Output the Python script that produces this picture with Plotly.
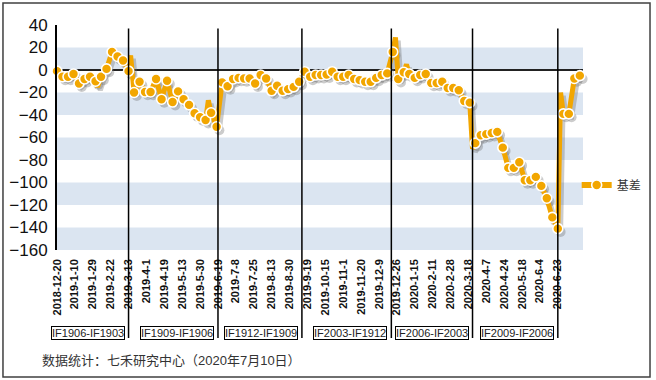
import plotly.graph_objects as go

# ---------------- data ----------------
tick_labels = ["2018-12-20", "2019-1-10", "2019-1-29", "2019-2-22", "2019-3-13", "2019-4-1",
               "2019-4-19", "2019-5-13", "2019-5-30", "2019-6-19", "2019-7-8", "2019-7-25",
               "2019-8-13", "2019-8-30", "2019-9-19", "2019-10-15", "2019-11-1", "2019-11-20",
               "2019-12-9", "2019-12-26", "2020-1-15", "2020-2-11", "2020-2-28", "2020-3-18",
               "2020-4-7", "2020-4-24", "2020-5-18", "2020-6-4", "2020-6-23"]
days_per_label = 13   # trading days between two axis labels
days_per_sample = 4   # trading days between two plotted samples

basis = [-1, -6, -6, -3.5, -12, -8, -6, -10, -6, 1,
         16, 12, 8.5, -1, -20, -10.5, -19.5, -19.5, -8, -26,
         -9.5, -28.5, -19, -26, -31, -38.5, -42, -44.5, -38, -50.5,
         -11, -14.5, -8, -7, -7.5, -7.5, -12, -4.5, -7.5, -18.5,
         -14, -18.5, -17, -15, -10.5, -1.5, -6, -4.5, -4.5, -4,
         -1.5, -6, -6, -4.5, -8, -9, -10.5, -10.5, -7, -4.5,
         -3, 16, -8, -2, -3.5, -7, -4.5, -3.5, -11.5, -11.5,
         -10.5, -16, -16, -18, -27.5, -29, -65, -58, -57, -56,
         -55, -69, -87, -87, -82, -98, -98, -95, -103, -114,
         -131, -141, -39, -39, -7.5, -5]

# intraday-like spikes of the basis line (trading-day index, value)
spike_day = [29.5, 53.5, 110, 246, 254, 302, 366]
spike_value = [-15, 13, -27, 29, 5, -70, -20]

roll_labels = ["IF1906-IF1903", "IF1909-IF1906", "IF1912-IF1909",
               "IF2003-IF1912", "IF2006-IF2003", "IF2009-IF2006"]
roll_day = [52, 117, 178, 243, 302, 364]

y_ticks = [40, 20, 0, -20, -40, -60, -80, -100, -120, -140, -160]
series_name = "基差"
source_note = "数据统计：七禾研究中心（2020年7月10日）"

# ---------------- derived ----------------
sample_day = [i * days_per_sample for i in range(len(basis))]
tick_day = [i * days_per_label for i in range(len(tick_labels))]
line_pts = sorted(list(zip(sample_day, basis)) + list(zip(spike_day, spike_value)))
line_x = [p[0] for p in line_pts]
line_y = [p[1] for p in line_pts]

ORANGE = "#F2A600"
BAND = "#DBE5F1"
LATIN = "Liberation Sans, Arial, sans-serif"
CJK = "Liberation Sans, Noto Sans CJK SC, sans-serif"

fig = go.Figure()

# drop shadow
fig.add_trace(go.Scatter(
    x=[d + 2 for d in line_x], y=[v - 3 for v in line_y], mode="lines",
    line=dict(color="rgba(110,110,110,0.35)", width=5), showlegend=False,
    hoverinfo="skip", cliponaxis=False))
fig.add_trace(go.Scatter(
    x=[d + 2 for d in sample_day], y=[v - 3 for v in basis], mode="markers",
    marker=dict(color="rgba(110,110,110,0.35)", size=10), showlegend=False,
    hoverinfo="skip", cliponaxis=False))

# basis line
fig.add_trace(go.Scatter(
    x=line_x, y=line_y, mode="lines", line=dict(color=ORANGE, width=5),
    showlegend=False, cliponaxis=False))
# sample markers
fig.add_trace(go.Scatter(
    x=sample_day, y=basis, mode="markers",
    marker=dict(color=ORANGE, size=10, line=dict(color="white", width=1.6)),
    showlegend=False, cliponaxis=False))
# legend entry
fig.add_trace(go.Scatter(
    x=[None], y=[None], mode="lines+markers", name=series_name,
    line=dict(color=ORANGE, width=6),
    marker=dict(color=ORANGE, size=10, line=dict(color="white", width=1.6))))

shapes = []
# alternating horizontal bands
for k in range(1, len(y_ticks) - 1, 2):
    shapes.append(dict(type="rect", xref="paper", x0=0, x1=1, yref="y",
                       y0=y_ticks[k + 1], y1=y_ticks[k], fillcolor=BAND,
                       line=dict(width=0), layer="below"))
# contract roll lines
for d in roll_day:
    shapes.append(dict(type="line", xref="x", x0=d, x1=d, yref="paper",
                       y0=-0.391, y1=0.985, line=dict(color="#000000", width=1.5),
                       layer="above"))
# outer frame
shapes.append(dict(type="rect", xref="paper", yref="paper",
                   x0=-0.1027, x1=1.1274, y0=-0.5644, y1=1.0978,
                   line=dict(color="#404040", width=1.5)))

annotations = []
for d, lab in zip(roll_day, roll_labels):
    annotations.append(dict(x=d, xref="x", y=-0.369, yref="paper", text=lab,
                            showarrow=False, xanchor="right", yanchor="middle",
                            xshift=-4, font=dict(family=LATIN, size=11, color="#222222"),
                            bordercolor="#000000", borderwidth=1, borderpad=0,
                            bgcolor="white"))
annotations.append(dict(x=-0.0323, xref="paper", y=-0.489, yref="paper",
                        text=source_note, showarrow=False, xanchor="left",
                        yanchor="middle", font=dict(family=CJK, size=13, color="#333333")))

fig.update_layout(
    width=656, height=380,
    margin=dict(l=57, r=73, t=25, b=130, autoexpand=False),
    paper_bgcolor="white", plot_bgcolor="white",
    shapes=shapes, annotations=annotations,
    showlegend=True,
    legend=dict(x=0.988, y=0.289, xanchor="left", yanchor="middle",
                bgcolor="rgba(0,0,0,0)", borderwidth=0,
                font=dict(family=CJK, size=12, color="#333333")),
    xaxis=dict(range=[0, 382.3], tickmode="array", tickvals=tick_day,
               ticktext=[f"<b>{t}</b>" for t in tick_labels], tickangle=-90,
               showgrid=False, zeroline=False, showline=False, ticks="",
               ticklabelstandoff=6,
               tickfont=dict(family=LATIN, size=11, color="#111111")),
    yaxis=dict(range=[-160, 40], tickmode="array", tickvals=y_ticks,
               showgrid=False, zeroline=True, zerolinecolor="#222222",
               zerolinewidth=1.5, showline=True, linecolor="#000000",
               linewidth=2, ticks="", ticklabelstandoff=4,
               tickfont=dict(family=LATIN, size=17, color="#111111")),
)

fig.write_html("out.html", config={"displayModeBar": False},
               post_script="document.body.style.margin='0';")
